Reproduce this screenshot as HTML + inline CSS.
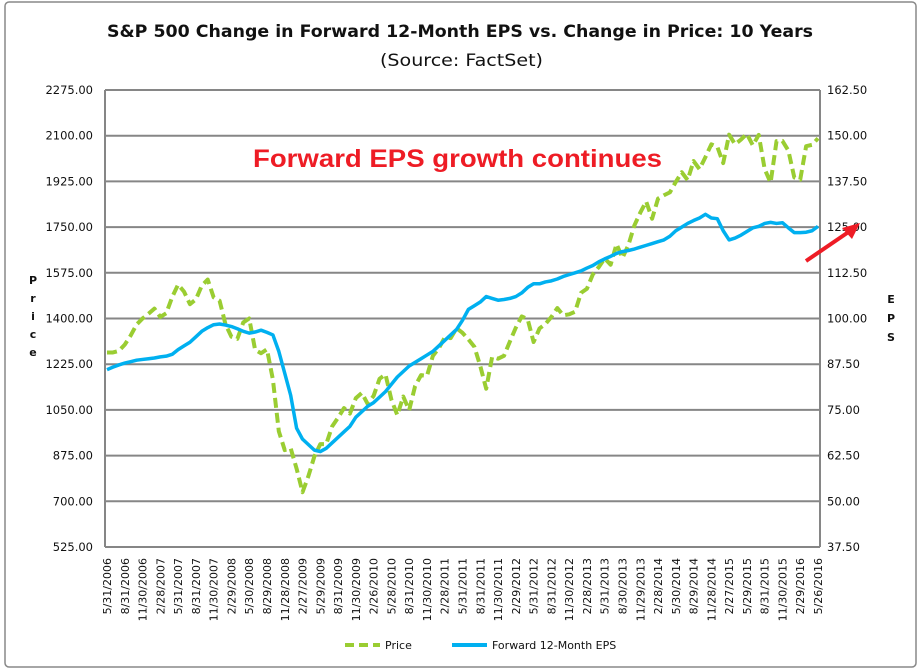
<!DOCTYPE html>
<html><head><meta charset="utf-8"><style>
body{margin:0;background:#fff;}
svg{display:block;font-family:"DejaVu Sans","Liberation Sans",sans-serif;}
</style></head><body>
<svg id="c" width="920" height="671" viewBox="0 0 920 671">
<rect x="5" y="2" width="911" height="665" rx="4" fill="#fff" stroke="#888" stroke-width="1.5"/>
<text x="107" y="37" textLength="706" lengthAdjust="spacingAndGlyphs" font-size="17" font-weight="bold" fill="#111">S&amp;P 500 Change in Forward 12-Month EPS vs. Change in Price: 10 Years</text>
<text x="380" y="66" textLength="163" lengthAdjust="spacingAndGlyphs" font-size="17" fill="#111">(Source: FactSet)</text>
<g id="grid"></g>
<g id="plot"></g>
<text x="253" y="167" textLength="409" lengthAdjust="spacingAndGlyphs" font-family="Liberation Sans, sans-serif" font-size="25" font-weight="bold" fill="#ee1c25">Forward EPS growth continues</text>
<line x1="806" y1="261" x2="850" y2="231" stroke="#ee1c25" stroke-width="4"/>
<polygon points="860,223 842,228 852,239" fill="#ee1c25"/>
<g font-size="11" font-weight="bold" fill="#111" text-anchor="middle">
<text x="33" y="284">P</text><text x="33" y="302">r</text><text x="33" y="320">i</text><text x="33" y="338">c</text><text x="33" y="356">e</text></g>
<g font-size="11" font-weight="bold" fill="#111" text-anchor="middle">
<text x="891" y="303">E</text><text x="891" y="322">P</text><text x="891" y="341">S</text></g>
<g>
<line x1="345" y1="645" x2="380" y2="645" stroke="#9acd32" stroke-width="4" stroke-dasharray="9,5"/>
<text x="385" y="649" font-size="11" fill="#111">Price</text>
<line x1="452" y1="645" x2="487" y2="645" stroke="#00b0f0" stroke-width="4"/>
<text x="492" y="649" font-size="11" fill="#111">Forward 12-Month EPS</text>
</g>
</svg>
<script>
const priceTicks=[525,700,875,1050,1225,1400,1575,1750,1925,2100,2275];
const epsTicks=[37.5,50,62.5,75,87.5,100,112.5,125,137.5,150,162.5];
const dateLabels=["5/31/2006","8/31/2006","11/30/2006","2/28/2007","5/31/2007","8/31/2007","11/30/2007","2/29/2008","5/30/2008","8/29/2008","11/28/2008","2/27/2009","5/29/2009","8/31/2009","11/30/2009","2/26/2010","5/28/2010","8/31/2010","11/30/2010","2/28/2011","5/31/2011","8/31/2011","11/30/2011","2/29/2012","5/31/2012","8/31/2012","11/30/2012","2/28/2013","5/31/2013","8/30/2013","11/29/2013","2/28/2014","5/30/2014","8/29/2014","11/28/2014","2/27/2015","5/29/2015","8/31/2015","11/30/2015","2/29/2016","5/26/2016"];
const priceValues=[1270,1270,1276,1300,1335,1377,1400,1418,
1438,1406,1420,1482,1530,1503,1455,1473,1526,1549,1481,1468,
1378,1330,1322,1385,1400,1280,1267,1282,1166,968,896,903,
825,735,797,872,919,919,987,1020,1057,1036,1095,1115,
1073,1104,1169,1186,1089,1030,1101,1049,1141,1183,1180,1257,
1286,1327,1325,1363,1345,1320,1292,1218,1131,1253,1246,1257,
1312,1365,1408,1397,1310,1362,1379,1406,1440,1412,1416,1426,
1498,1514,1569,1597,1630,1606,1685,1632,1681,1756,1805,1848,
1782,1859,1872,1883,1923,1960,1930,2003,1972,2018,2067,2058,
1995,2104,2067,2085,2107,2063,2103,1972,1920,2079,2080,2043,
1940,1932,2060,2065,2090];
const epsValues=[86,86.7,87.3,87.8,88.2,88.6,88.8,89,
89.2,89.5,89.7,90.2,91.5,92.5,93.5,95,96.5,97.5,98.3,98.5,
98.2,97.8,97.2,96.5,96,96.3,96.8,96.2,95.5,91,85,79,
70,67,65.5,64,63.6,64.5,66,67.5,69,70.5,73,74.5,
76,77,78.5,80,82,84,85.5,87,88,89,90,91,
92.5,94,95.5,97,99.5,102.5,103.5,104.5,106,105.5,105,105.2,
105.5,106,107,108.5,109.5,109.5,110,110.3,110.8,111.5,112,112.5,
113,113.8,114.5,115.5,116.3,117,117.8,118.3,118.6,119,119.5,120,
120.5,121,121.5,122.5,124,125,126,126.8,127.5,128.5,127.5,127.3,
124,121.5,122,122.8,123.8,124.8,125.2,126,126.3,126,126.2,124.8,
123.5,123.5,123.6,124,125.2];

const NS="http://www.w3.org/2000/svg";
const L=105,R=820,T=90,B=547;
const x0=107,x1=818;
function xPos(i){return x0+(x1-x0)*i/120;}
function yPrice(v){return B-(v-525)/(2275-525)*(B-T);}
function yEps(v){return B-(v-37.5)/(162.5-37.5)*(B-T);}
function mk(tag,attrs,parent){const e=document.createElementNS(NS,tag);for(const k in attrs)e.setAttribute(k,attrs[k]);parent.appendChild(e);return e;}
const grid=document.getElementById('grid'),plot=document.getElementById('plot');

priceTicks.forEach((v,i)=>{
  const y=yPrice(v);
  const g=mk('line',{x1:L,x2:R,y1:y,y2:y,stroke:'#868686','stroke-width':2},grid);
  
  
  const t=mk('text',{x:93,y:y+4,'text-anchor':'end','font-size':11.5,fill:'#111'},grid);
  t.textContent=v.toFixed(2);
  
  
});
epsTicks.forEach(v=>{
  const y=yEps(v);
  const t=mk('text',{x:827,y:y+4,'font-size':11.5,fill:'#111'},grid);
  t.textContent=v.toFixed(2);
  
  
});
const la=mk('line',{x1:L,x2:L,y1:T,y2:B,stroke:'#868686','stroke-width':2},grid);


const ra=mk('line',{x1:R,x2:R,y1:T,y2:B,stroke:'#868686','stroke-width':2},grid);


dateLabels.forEach((d,i)=>{
  const x=xPos(i*3)+4;
  const t=mk('text',{x:x,y:558,'text-anchor':'end','font-size':11,fill:'#111',transform:`rotate(-90 ${x} 558)`},grid);
  t.textContent=d;
  
  
});
const pp=mk('polyline',{points:priceValues.map((v,i)=>xPos(i)+','+yPrice(v)).join(' '),fill:'none',stroke:'#9acd32','stroke-width':4,'stroke-dasharray':'10,5','stroke-linejoin':'round'},plot);


const ep=mk('polyline',{points:epsValues.map((v,i)=>xPos(i)+','+yEps(v)).join(' '),fill:'none',stroke:'#00b0f0','stroke-width':3.5,'stroke-linejoin':'round'},plot);


</script>
</body></html>
